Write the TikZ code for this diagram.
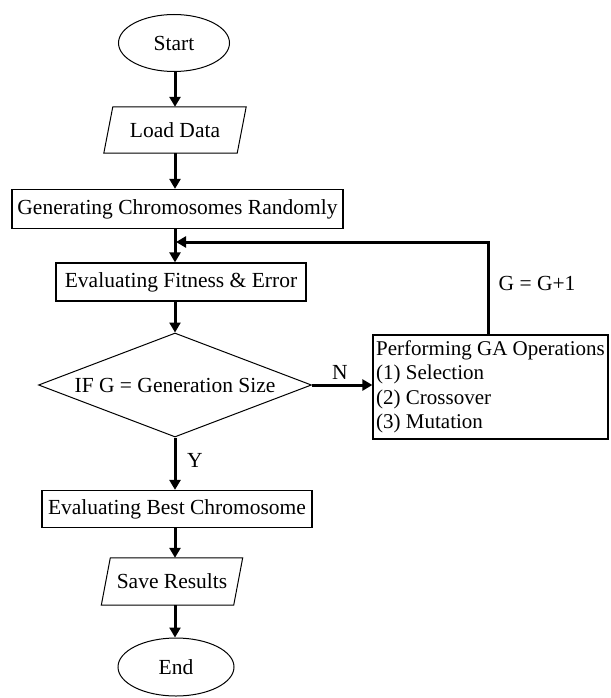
\documentclass[tikz,border=0pt]{standalone}
\usepackage{fontspec}
\setmainfont{Liberation Serif}
\usetikzlibrary{shapes.geometric,arrows.meta}
\begin{document}
\begin{tikzpicture}[x=1pt,y=-1pt,
  every node/.style={font=\fontsize{21.5}{24.5}\selectfont, inner sep=0pt},
  term/.style={draw, ellipse, line width=1pt},
  io/.style={rectangle},
  proc/.style={draw, rectangle, line width=1.3pt},
  cond/.style={draw, diamond, aspect=2.62, line width=1pt},
  arr/.style={line width=3pt, -{Triangle[length=10pt,width=11pt]}},
  slantbox/.style={line width=1pt}]
\useasboundingbox (0,0) rectangle (610,698);
\coordinate (axis) at (175,0);
\node[term, minimum width=111pt, minimum height=57pt] (start) at (174,43) {Start};
\node[io, minimum width=133pt, minimum height=46pt] (load) at (175,130) {Load Data};
\node[proc, minimum width=331pt, minimum height=39pt] (gen) at (177.5,209) {Generating Chromosomes Randomly};
\node[proc, minimum width=250pt, minimum height=38pt] (fit) at (181,282) {Evaluating Fitness \& Error};
\node[cond, minimum width=273pt, minimum height=104pt] (cond) at (175,385) {IF G = Generation Size};
\node[proc, minimum width=235pt, minimum height=104pt, inner xsep=1pt, align=left, font=\fontsize{21}{24.5}\selectfont] (ga) at (490.5,387) {Performing GA Operations\\(1) Selection\\(2) Crossover\\(3) Mutation};
\node[proc, minimum width=270pt, minimum height=37pt] (best) at (177,509) {Evaluating Best Chromosome};
\node[io, minimum width=132pt, minimum height=47pt] (save) at (172,581.5) {Save Results};
\node[term, minimum width=116pt, minimum height=58pt] (end) at (176,667) {End};
\draw[slantbox] ([xshift=-4.5pt]load.south west) -- ([xshift=4.5pt]load.north west) -- ([xshift=4.5pt]load.north east) -- ([xshift=-4.5pt]load.south east) -- cycle;
\draw[slantbox] ([xshift=-4.5pt]save.south west) -- ([xshift=4.5pt]save.north west) -- ([xshift=4.5pt]save.north east) -- ([xshift=-4.5pt]save.south east) -- cycle;
\coordinate (join) at (176,242);
\draw[arr] (axis |- start.south) -- (axis |- load.north);
\draw[arr] (axis |- load.south) -- (axis |- gen.north);
\draw[arr] (axis |- gen.south) -- (axis |- fit.north);
\draw[arr] (axis |- fit.south) -- (axis |- cond.north);
\draw[arr] (cond.south) -- (cond.south |- best.north);
\draw[arr] (axis |- best.south) -- (axis |- save.north);
\draw[arr] (axis |- save.south) -- (axis |- end.north);
\draw[arr] (cond.east) -- (cond.east -| ga.west);
\draw[arr] ([xshift=-2.5pt]ga.north) -- ([xshift=-2.5pt]ga.north |- join) -- (join);
\node (lN) at (340,372) {N};
\node (lY) at (195,460) {Y};
\node (lG) at (537,283) {G = G+1};
\end{tikzpicture}
\end{document}
